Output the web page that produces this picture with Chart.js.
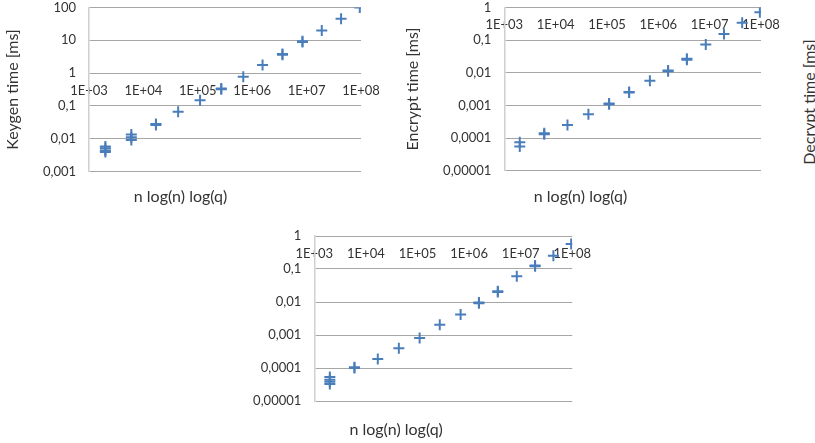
<!DOCTYPE html>
<html>
<head>
<meta charset="utf-8">
<script src="https://cdn.jsdelivr.net/npm/chart.js@4.4.0/dist/chart.umd.min.js"></script>
<style>
  body { margin: 0; background: #fff; width: 815px; height: 443px; position: relative; overflow: hidden; font-family: Lato, sans-serif; }
  canvas { position: absolute; }
  #decryptTitle { position: absolute; left: 808px; top: 102px; transform: translate(-50%, -50%) rotate(-90deg); white-space: nowrap; font-size: 16px; color: #333; }
</style>
</head>
<body>
<canvas id="keygen" width="400" height="215" style="left:0;top:0"></canvas>
<canvas id="encrypt" width="395" height="215" style="left:400px;top:0"></canvas>
<canvas id="decrypt" width="390" height="218" style="left:220px;top:225px"></canvas>
<div id="decryptTitle">Decrypt time [ms]</div>
<script>
// n log(n) log(q) for each parameter set
const sizes = [2000, 6000, 17000, 43500, 110000, 270000, 685000, 1550000, 3600000, 8400000, 19000000, 43000000, 95000000];
const xTicks = [1e3, 1e4, 1e5, 1e6, 1e7, 1e8];
const xTickLabels = ['1E+03', '1E+04', '1E+05', '1E+06', '1E+07', '1E+08'];

// measured times [ms], several runs per size
const keygenTimes = [[0.0058, 0.0051, 0.0044, 0.0039], [0.0135, 0.011, 0.0092], [0.028, 0.026], [0.066], [0.148], [0.34, 0.32], [0.78], [1.78], [3.8, 3.6], [9.3, 8.9], [20], [45], [100]];
const encryptTimes = [[0.000074, 0.000055], [0.00014, 0.00013], [0.00025], [0.00054], [0.00115, 0.00108], [0.0026, 0.0025], [0.0057], [0.0118, 0.0112], [0.027, 0.025], [0.074], [0.155], [0.34], [0.72]];
const decryptTimes = [[0.000053, 0.000044, 0.000038, 0.000033], [0.000105, 0.0001], [0.000188], [0.0004], [0.00081], [0.00205], [0.0042], [0.0096, 0.0091], [0.021, 0.02], [0.06], [0.128, 0.122], [0.25], [0.57]];

const keygenTicks = [0.001, 0.01, 0.1, 1, 10, 100];
const keygenTickLabels = ['0,001', '0,01', '0,1', '1', '10', '100'];
const cryptTicks = [0.00001, 0.0001, 0.001, 0.01, 0.1, 1];
const cryptTickLabels = ['0,00001', '0,0001', '0,001', '0,01', '0,1', '1'];

const blue = '#4a7ebb';
const textColor = '#333';

function toPoints(times) {
  const pts = [];
  times.forEach((runs, i) => runs.forEach(t => pts.push({x: sizes[i], y: t})));
  return pts;
}

function makeChart(id, times, yTicks, yLabels, yTitle, box) {
  const ctx = document.getElementById(id).getContext('2d');
  return new Chart(ctx, {
    type: 'scatter',
    data: {
      datasets: [{
        data: toPoints(times),
        pointStyle: 'cross',
        pointRadius: 5.5,
        pointBorderWidth: 2,
        borderColor: blue,
        backgroundColor: blue,
        pointHoverRadius: 5.5
      }]
    },
    options: {
      responsive: false,
      animation: false,
      events: [],
      layout: { padding: { top: box.top, right: box.right, left: 0, bottom: 0 } },
      plugins: {
        legend: { display: false },
        tooltip: { enabled: false },
        title: {
          display: true,
          position: 'bottom',
          text: 'n log(n) log(q)',
          color: textColor,
          font: { family: 'Lato', size: 16, weight: 'normal' },
          padding: { top: box.titleTop, bottom: box.titleBottom }
        }
      },
      scales: {
        x: {
          type: 'logarithmic',
          position: { y: 1 },
          min: 1e3,
          max: 1e8,
          grid: { display: false, drawTicks: false },
          border: { display: false },
          afterBuildTicks: s => { s.ticks = xTicks.map(v => ({ value: v })); },
          afterFit: s => { s.paddingLeft = 0; s.paddingRight = 0; s.paddingTop = 0; s.paddingBottom = 0; },
          ticks: {
            autoSkip: false,
            maxRotation: 0,
            padding: 10,
            color: textColor,
            font: { family: 'Lato', size: 13 },
            callback: v => xTickLabels[xTicks.indexOf(v)]
          }
        },
        y: {
          type: 'logarithmic',
          position: 'left',
          min: yTicks[0],
          max: yTicks[yTicks.length - 1],
          grid: { color: '#a6a6a6', drawTicks: false },
          border: { color: '#cfcfcf', width: 1.5 },
          afterBuildTicks: s => { s.ticks = yTicks.map(v => ({ value: v })); },
          afterFit: s => { s.width = box.yWidth; s.paddingTop = 0; s.paddingBottom = 0; },
          ticks: {
            padding: 13,
            color: textColor,
            font: { family: 'Lato', size: 13 },
            callback: v => yLabels[yTicks.indexOf(v)]
          },
          title: {
            display: !!yTitle,
            text: yTitle,
            color: textColor,
            font: { family: 'Lato', size: 16 },
            padding: { top: 3, bottom: 0 }
          }
        }
      }
    }
  });
}

makeChart('keygen', keygenTimes, keygenTicks, keygenTickLabels, 'Keygen time [ms]',
  { yWidth: 89, top: 5, right: 39, titleTop: 15.9, titleBottom: 8.4 });
makeChart('encrypt', encryptTimes, cryptTicks, cryptTickLabels, 'Encrypt time [ms]',
  { yWidth: 104.3, top: 5.5, right: 34, titleTop: 16.7, titleBottom: 8.4 });
makeChart('decrypt', decryptTimes, cryptTicks, cryptTickLabels, '',
  { yWidth: 94.3, top: 11, right: 37.7, titleTop: 19.4, titleBottom: 3.4 });
</script>
</body>
</html>
